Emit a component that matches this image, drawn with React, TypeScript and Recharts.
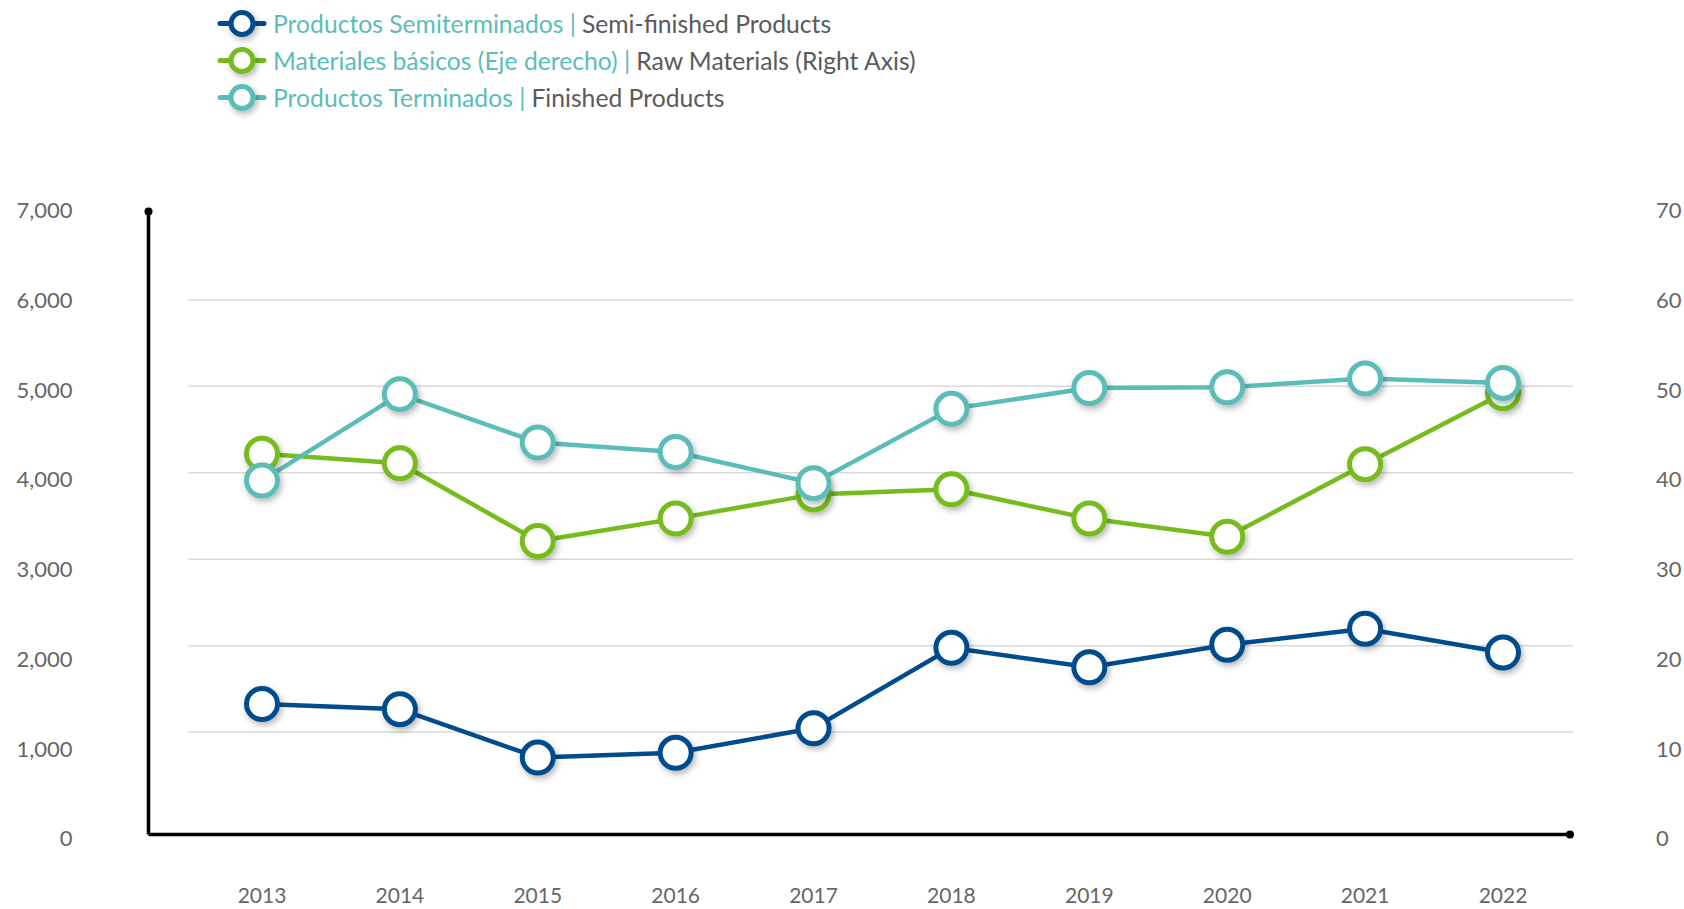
import React from 'react';
import {
  LineChart,
  Line,
  XAxis,
  YAxis,
  CartesianGrid,
  Legend
} from 'recharts';

const years = ['2013', '2014', '2015', '2016', '2017', '2018', '2019', '2020', '2021', '2022'];
const semiFinished = [1325, 1265, 705, 760, 1045, 1975, 1750, 2010, 2195, 1920];
const rawMaterials = [42.2, 41.1, 32.1, 34.7, 37.5, 38.1, 34.7, 32.6, 41.0, 49.2];
const finished = [3910, 4910, 4350, 4240, 3880, 4740, 4980, 4990, 5090, 5040];

const leftTicks = [0, 1000, 2000, 3000, 4000, 5000, 6000, 7000];
const rightTicks = [0, 10, 20, 30, 40, 50, 60, 70];
const gridValues = [1000, 2000, 3000, 4000, 5000, 6000];

const NAME_SEMI = 'Productos Semiterminados | Semi-finished Products';
const NAME_RAW = 'Materiales básicos (Eje derecho) | Raw Materials (Right Axis)';
const NAME_FIN = 'Productos Terminados | Finished Products';
const legendOrder = ['semi', 'raw', 'fin'];

const BLUE = '#004c8c';
const GREEN = '#76bc1e';
const TEAL = '#5bbdb8';
const FONT = 'Lato, "Open Sans", sans-serif';

// the baseline in the original sits a little below the zero of the data scale
const ZERO_GAP_PX = 16;

const data = years.map((year, i) => ({
  year,
  semi: semiFinished[i],
  raw: rawMaterials[i],
  fin: finished[i]
}));

const fmt = (v: number) => v.toLocaleString('en-US');

const tickStyle = { fill: '#666', fontSize: 21, fontFamily: FONT };

// labels in the original are spread from just above the axis top to just below the baseline
const makeTick = (max: number) => (p: any) => {
  const v = p.payload.value;
  const shift = -3 + ((max - v) / max) * (ZERO_GAP_PX + 7);
  return (
    <text
      x={p.x}
      y={p.y + shift}
      dy="0.355em"
      textAnchor={p.textAnchor}
      fill="#666"
      fontSize={22}
      fontFamily={FONT}
    >
      {fmt(v)}
    </text>
  );
};

const makeDot = (color: string) => (p: any) => (
  <circle
    key={`dot-${color}-${p.index}`}
    cx={p.cx}
    cy={p.cy}
    r={15.5}
    fill="#fff"
    stroke={color}
    strokeWidth={5}
    filter="url(#dotShadow)"
  />
);

const GridLine = (p: any) => (
  <line
    key={`grid-${p.index}`}
    x1={p.x1 + 40}
    x2={p.x2 + 3}
    y1={p.y1}
    y2={p.y2}
    stroke="#d9d9d9"
    strokeWidth={1.5}
  />
);

const AxisTopDot = (p: any) => {
  const vb = p.viewBox || {};
  return <circle cx={vb.x + vb.width} cy={vb.y - 2} r={4} fill="#000" />;
};

const AxisEndDot = (p: any) => {
  const vb = p.viewBox || {};
  return <circle cx={vb.x + vb.width} cy={vb.y} r={4} fill="#000" />;
};

const LegendContent = (props: any) => {
  const items = (props.payload || [])
    .slice()
    .sort((a: any, b: any) => legendOrder.indexOf(a.dataKey) - legendOrder.indexOf(b.dataKey));
  return (
    <div style={{ fontFamily: FONT, fontSize: 24.7 }}>
      {items.map((item: any) => {
        const [es, en] = String(item.value).split(' | ');
        return (
          <div
            key={item.value}
            style={{ display: 'flex', alignItems: 'center', height: 37, whiteSpace: 'nowrap' }}
          >
            <svg width={48} height={37} style={{ overflow: 'visible' }}>
              <line x1={2} x2={46} y1={18.5} y2={18.5} stroke={item.color} strokeWidth={5} strokeLinecap="round" />
              <circle cx={24} cy={18.5} r={11} fill="#fff" stroke={item.color} strokeWidth={5} filter="url(#dotShadow)" />
            </svg>
            <span style={{ color: TEAL, marginLeft: 7 }}>{es} |</span>
            <span style={{ color: '#5a5a5a', marginLeft: 6 }}>{en}</span>
          </div>
        );
      })}
    </div>
  );
};

export default function App() {
  return (
    <div style={{ width: 1684, height: 909, background: '#fff' }}>
      <style>{'body{margin:0}'}</style>
      <LineChart
        width={1684}
        height={909}
        data={data}
        margin={{ top: 213.5, right: 0, bottom: 0, left: 0 }}
      >
        <defs>
          <filter id="dotShadow" x="-60%" y="-60%" width="220%" height="220%">
            <feDropShadow dx="2" dy="3" stdDeviation="3" floodColor="#000" floodOpacity="0.3" />
          </filter>
        </defs>
        <CartesianGrid
          yAxisId="left"
          vertical={false}
          horizontalValues={gridValues}
          syncWithTicks
          horizontal={GridLine}
        />
        <XAxis
          dataKey="year"
          padding={{ left: 113.5, right: 67 }}
          axisLine={{ stroke: '#000', strokeWidth: 3.5 }}
          tickLine={false}
          tickMargin={47.5}
          height={74.5}
          interval={0}
          tick={tickStyle}
          label={{ content: AxisEndDot }}
        />
        <YAxis
          yAxisId="left"
          orientation="left"
          width={148.5}
          domain={[-185, 7000]}
          ticks={leftTicks}
          interval={0}
          axisLine={{ stroke: '#000', strokeWidth: 3.5 }}
          tickLine={false}
          tickMargin={70}
          tick={makeTick(7000)}
          label={{ content: AxisTopDot }}
        />
        <YAxis
          yAxisId="right"
          orientation="right"
          width={114}
          domain={[-1.85, 70]}
          ticks={rightTicks}
          interval={0}
          axisLine={false}
          tickLine={false}
          tickMargin={80}
          tick={makeTick(70)}
        />
        <Legend
          layout="vertical"
          align="center"
          verticalAlign="middle"
          wrapperStyle={{ left: 218, top: 5, width: 'auto' }}
          content={LegendContent}
        />
        <Line
          yAxisId="left"
          dataKey="semi"
          name={NAME_SEMI}
          stroke={BLUE}
          strokeWidth={4.5}
          dot={makeDot(BLUE)}
          activeDot={false}
          isAnimationActive={false}
        />
        <Line
          yAxisId="right"
          dataKey="raw"
          name={NAME_RAW}
          stroke={GREEN}
          strokeWidth={4.5}
          dot={makeDot(GREEN)}
          activeDot={false}
          isAnimationActive={false}
        />
        <Line
          yAxisId="left"
          dataKey="fin"
          name={NAME_FIN}
          stroke={TEAL}
          strokeWidth={4.5}
          dot={makeDot(TEAL)}
          activeDot={false}
          isAnimationActive={false}
        />
      </LineChart>
    </div>
  );
}
